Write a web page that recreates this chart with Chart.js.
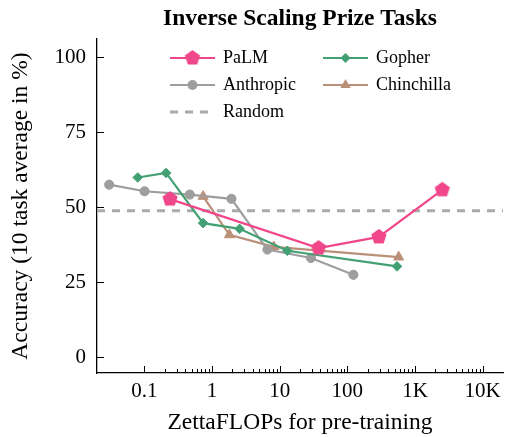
<!DOCTYPE html>
<html lang="en">
  <head>
    <meta charset="UTF-8" />
    <title>Inverse Scaling Prize Tasks</title>
    <script src="https://cdn.jsdelivr.net/npm/chart.js@4/dist/chart.umd.min.js"></script>
    <style>
      body { margin: 0; background: #fff; }
      canvas { display: block; }
    </style>
  </head>
  <body>
    <canvas id="chart" width="512" height="437"></canvas>

    <script>
      // data (x = ZettaFLOPs, y = accuracy %)
      const palmX = [0.24, 37.6, 293, 2535];
      const palmY = [52.7, 36.4, 40.1, 55.8];
      const gopherX = [0.08, 0.21, 0.74, 2.56, 13, 543];
      const gopherY = [59.9, 61.4, 44.7, 42.8, 35.5, 30.3];
      const anthropicX = [0.0303, 0.101, 0.47, 1.94, 6.6, 29, 123];
      const anthropicY = [57.5, 55.3, 54.2, 52.8, 35.9, 33.1, 27.5];
      const chinchillaX = [0.74, 1.81, 8.2, 575];
      const chinchillaY = [53.6, 40.8, 36.8, 33.4];
      const randomY = 48.8;

      const xTickValues = [0.1, 1, 10, 100, 1000, 10000];
      const xTickLabels = ["0.1", "1", "10", "100", "1K", "10K"];
      const yTickValues = [0, 25, 50, 75, 100];

      const titleText = "Inverse Scaling Prize Tasks";
      const xTitle = "ZettaFLOPs for pre-training";
      const yTitle = "Accuracy (10 task average in %)";

      const serif = "'Liberation Serif', 'Times New Roman', serif";
      const colors = {
        palm: "#f0478a",
        gopher: "#43a073",
        anthropic: "#9e9e9e",
        chinchilla: "#bb9078",
        random: "#aaaaaa",
      };

      const pts = (xs, ys) => xs.map((x, i) => ({ x: x, y: ys[i] }));

      // pentagon marker for PaLM
      function pentagon(r, color) {
        const c = document.createElement("canvas");
        c.width = c.height = Math.ceil(r * 2 + 4);
        const g = c.getContext("2d");
        const cx = c.width / 2, cy = c.height / 2;
        g.beginPath();
        for (let i = 0; i < 5; i++) {
          const a = -Math.PI / 2 + (i * 2 * Math.PI) / 5;
          g.lineTo(cx + r * Math.cos(a), cy + r * Math.sin(a));
        }
        g.closePath();
        g.fillStyle = color;
        g.fill();
        return c;
      }
      const palmMarker = pentagon(8, colors.palm);

      // minor ticks only between 0.1 and 10K
      const xAllTicks = [];
      xTickValues.slice(0, -1).forEach((d) => {
        for (let m = 1; m <= 9; m++) xAllTicks.push(m === 1 ? d : d * m);
      });
      xAllTicks.push(xTickValues[xTickValues.length - 1]);

      const legendItems = [
        { label: "PaLM", color: colors.palm, marker: "pentagon", col: 0, row: 0 },
        { label: "Gopher", color: colors.gopher, marker: "diamond", col: 1, row: 0 },
        { label: "Anthropic", color: colors.anthropic, marker: "circle", col: 0, row: 1 },
        { label: "Chinchilla", color: colors.chinchilla, marker: "triangle", col: 1, row: 1 },
        { label: "Random", color: colors.random, marker: "dash", col: 0, row: 2 },
      ];

      const decorPlugin = {
        id: "decor",
        afterDraw(chart) {
          const ctx = chart.ctx;
          const area = chart.chartArea;
          const xs = chart.scales.x, ys = chart.scales.y;
          ctx.save();

          // inward ticks
          ctx.strokeStyle = "#000";
          ctx.lineWidth = 1;
          yTickValues.forEach((v) => {
            const py = Math.round(ys.getPixelForValue(v)) + 0.5;
            ctx.beginPath();
            ctx.moveTo(area.left, py);
            ctx.lineTo(area.left + 7, py);
            ctx.stroke();
          });
          xAllTicks.forEach((v) => {
            const px = Math.round(xs.getPixelForValue(v)) + 0.5;
            const len = xTickValues.includes(v) ? 7 : 4;
            ctx.beginPath();
            ctx.moveTo(px, area.bottom);
            ctx.lineTo(px, area.bottom - len);
            ctx.stroke();
          });

          // title
          ctx.fillStyle = "#000";
          ctx.font = "bold 23.5px " + serif;
          ctx.textAlign = "center";
          ctx.textBaseline = "alphabetic";
          ctx.fillText(titleText, (area.left + area.right) / 2, 25);

          // legend, two columns
          const colX = [170, 323];
          const rowY = [58, 85, 112];
          ctx.font = "18px " + serif;
          ctx.textAlign = "left";
          ctx.textBaseline = "middle";
          legendItems.forEach((it) => {
            const x0 = colX[it.col], y0 = rowY[it.row];
            const x1 = x0 + 45, xm = x0 + 22.5;
            ctx.strokeStyle = it.color;
            ctx.fillStyle = it.color;
            if (it.marker === "dash") {
              ctx.lineWidth = 3;
              ctx.setLineDash([8, 7]);
            } else {
              ctx.lineWidth = 2.2;
              ctx.setLineDash([]);
            }
            ctx.beginPath();
            ctx.moveTo(x0, y0);
            ctx.lineTo(x1, y0);
            ctx.stroke();
            ctx.setLineDash([]);
            ctx.beginPath();
            if (it.marker === "circle") {
              ctx.arc(xm, y0, 5, 0, Math.PI * 2);
              ctx.fill();
            } else if (it.marker === "diamond") {
              ctx.moveTo(xm, y0 - 5);
              ctx.lineTo(xm + 5, y0);
              ctx.lineTo(xm, y0 + 5);
              ctx.lineTo(xm - 5, y0);
              ctx.closePath();
              ctx.fill();
            } else if (it.marker === "triangle") {
              ctx.moveTo(xm, y0 - 6);
              ctx.lineTo(xm + 5.2, y0 + 3);
              ctx.lineTo(xm - 5.2, y0 + 3);
              ctx.closePath();
              ctx.fill();
            } else if (it.marker === "pentagon") {
              ctx.drawImage(palmMarker, xm - palmMarker.width / 2, y0 - palmMarker.height / 2);
            }
            ctx.fillStyle = "#000";
            ctx.fillText(it.label, x1 + 8, y0);
          });
          ctx.restore();
        },
      };

      const line = (label, data, color, style, radius) => ({
        label: label,
        data: data,
        borderColor: color,
        backgroundColor: color,
        borderWidth: 2.2,
        pointStyle: style,
        pointRadius: radius,
        pointBorderWidth: 1,
        pointBackgroundColor: color,
        pointBorderColor: color,
      });

      new Chart(document.getElementById("chart"), {
        type: "line",
        data: {
          datasets: [
            line("PaLM", pts(palmX, palmY), colors.palm, palmMarker, 8),
            line("Gopher", pts(gopherX, gopherY), colors.gopher, "rectRot", 4.8),
            line("Anthropic", pts(anthropicX, anthropicY), colors.anthropic, "circle", 4.6),
            line("Chinchilla", pts(chinchillaX, chinchillaY), colors.chinchilla, "triangle", 5.8),
            {
              label: "Random",
              data: [{ x: 0.02, y: randomY }, { x: 20000, y: randomY }],
              borderColor: colors.random,
              borderWidth: 3,
              borderDash: [8, 7],
              pointRadius: 0,
            },
          ],
        },
        options: {
          responsive: false,
          animation: false,
          layout: { padding: { top: 39, right: 5, left: 0, bottom: 0 } },
          plugins: {
            legend: { display: false },
            title: { display: false },
            tooltip: { enabled: false },
          },
          scales: {
            x: {
              type: "logarithmic",
              min: 0.02,
              max: 20000,
              afterFit: (s) => { s.height = 64; },
              afterBuildTicks: (s) => {
                s.ticks = xAllTicks.map((v) => ({ value: v, major: xTickValues.includes(v) }));
              },
              grid: { display: false, drawTicks: false },
              border: { display: true, color: "#000", width: 1.3 },
              ticks: {
                autoSkip: false,
                maxRotation: 0,
                padding: 6,
                color: "#000",
                font: { family: serif, size: 21 },
                callback: (v) => {
                  const i = xTickValues.indexOf(v);
                  return i >= 0 ? xTickLabels[i] : "";
                },
              },
              title: {
                display: true,
                text: xTitle,
                color: "#000",
                font: { family: serif, size: 23.5 },
                padding: { top: 0, bottom: 0 },
              },
            },
            y: {
              min: -5.2,
              max: 106,
              afterFit: (s) => { s.width = 97; },
              afterBuildTicks: (s) => {
                s.ticks = yTickValues.map((v) => ({ value: v }));
              },
              grid: { display: false, drawTicks: false },
              border: { display: true, color: "#000", width: 1.3 },
              ticks: {
                padding: 11,
                color: "#000",
                font: { family: serif, size: 21 },
              },
              title: {
                display: true,
                text: yTitle,
                color: "#000",
                font: { family: serif, size: 23.5 },
                padding: { top: 7, bottom: 0 },
              },
            },
          },
        },
        plugins: [decorPlugin],
      });
    </script>
  </body>
</html>
